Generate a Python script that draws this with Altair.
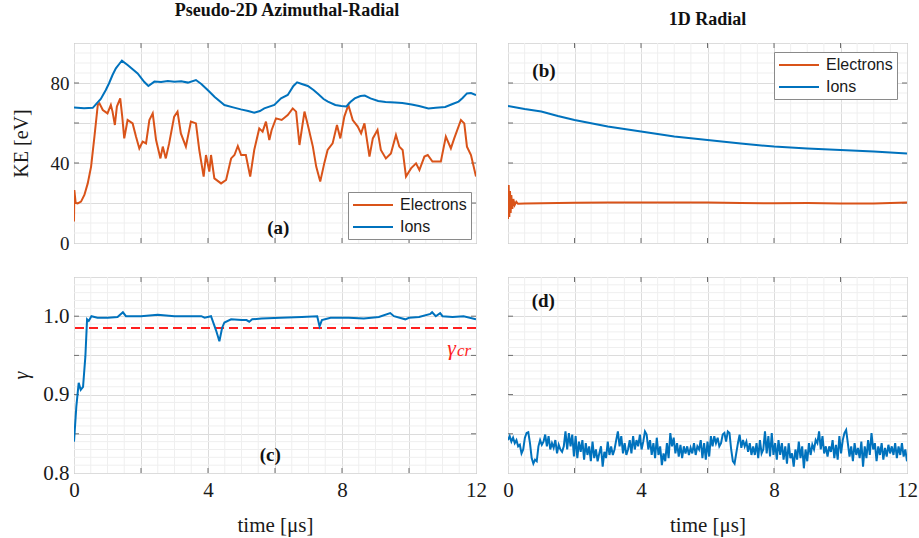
import altair as alt
import numpy as np
import pandas as pd

ORANGE = "#D95319"
BLUE = "#0072BD"
RED = "#FF1F1F"
MAJOR_GRID = "#dcdcdc"
MINOR_GRID = "#efefef"
FRAME = "#9a9a9a"
SERIF = "Liberation Serif"
SANS = "Liberation Sans"

# ---------------- data ----------------
# (time [us], kinetic energy [eV]) -- pseudo-2D azimuthal-radial run
KE2D_ELECTRONS = [
    (0, 10.7), (0.01, 26.5), (0.05, 20), (0.11, 19.8), (0.21, 20.7), (0.31, 24), (0.41, 29.8),
    (0.51, 38.2), (0.61, 53.2), (0.71, 69), (0.76, 69.8), (0.86, 66.5), (1.0, 64.8), (1.1, 69),
    (1.15, 65.7), (1.22, 59), (1.28, 68.2), (1.38, 72.3), (1.44, 63.2), (1.5, 52.3), (1.6, 61.5),
    (1.75, 59.8), (1.85, 53.2), (1.95, 47.3), (2.05, 50.7), (2.15, 49.8), (2.25, 61.5), (2.35, 64.8),
    (2.45, 51.5), (2.58, 42.3), (2.65, 48.2), (2.74, 42.3), (2.84, 49.8), (2.99, 63.2), (3.09, 65.7),
    (3.19, 54.8), (3.34, 48.2), (3.49, 60.7), (3.64, 59.8), (3.74, 46.5), (3.87, 33.2), (3.94, 44),
    (4.04, 35.7), (4.09, 44), (4.19, 32.3), (4.39, 29.8), (4.54, 31.5), (4.69, 42.3), (4.79, 44),
    (4.89, 48.5), (4.99, 44), (5.13, 44), (5.26, 33.2), (5.38, 46.5), (5.53, 57.3), (5.63, 55.7),
    (5.73, 60.7), (5.83, 51.5), (5.9, 56.5), (6.03, 62.3), (6.2, 61.5), (6.38, 64), (6.53, 67.3),
    (6.63, 65.7), (6.73, 49), (6.88, 65.7), (6.98, 59), (7.13, 48.2), (7.23, 38.2), (7.35, 30.7),
    (7.47, 39.8), (7.57, 46.5), (7.72, 49.8), (7.85, 59), (7.95, 52.3), (8.07, 63.2), (8.19, 69),
    (8.32, 61.5), (8.47, 58.2), (8.57, 54.8), (8.67, 59.8), (8.82, 43.2), (8.92, 52.3), (9.06, 56.5),
    (9.16, 46.5), (9.31, 42.3), (9.46, 44.8), (9.61, 54), (9.71, 48.2), (9.81, 46.5), (9.91, 33.2),
    (10.06, 37.3), (10.21, 39.8), (10.31, 36.5), (10.46, 43.2), (10.56, 44), (10.7, 40.7),
    (10.95, 40.7), (11.1, 53.2), (11.25, 47.3), (11.35, 52.3), (11.55, 61.5), (11.65, 59.8),
    (11.73, 48.2), (11.85, 44), (12.0, 33.2),
]
KE2D_IONS = [
    (0, 67.8), (0.3, 67.4), (0.56, 67.6), (0.8, 72), (0.95, 76.5), (1.05, 80), (1.15, 84),
    (1.25, 87.3), (1.35, 89.5), (1.43, 91.2), (1.6, 89), (1.9, 84.8), (2.1, 80.5), (2.22, 78.5),
    (2.4, 80.7), (2.6, 80.5), (2.8, 81), (3.0, 80.6), (3.2, 80.9), (3.4, 80.2), (3.64, 81.5),
    (3.8, 79.5), (3.99, 76.5), (4.2, 73), (4.49, 69), (4.75, 67.8), (4.98, 66.8), (5.2, 66),
    (5.38, 65.2), (5.55, 66), (5.68, 67.3), (5.98, 69), (6.18, 72.3), (6.38, 74), (6.55, 78.5),
    (6.66, 80.3), (6.8, 79.5), (6.98, 78.5), (7.15, 76.5), (7.28, 74.6), (7.45, 72), (7.58, 70.7),
    (7.8, 69), (7.98, 68.5), (8.13, 68.3), (8.25, 70.5), (8.38, 72.3), (8.55, 73.5), (8.68, 73.7),
    (8.85, 72.3), (9.08, 71), (9.3, 70.5), (9.58, 70.3), (9.8, 70), (10.08, 69.3), (10.3, 68.5),
    (10.58, 67.3), (10.8, 67.6), (11.08, 68), (11.3, 69.5), (11.48, 70.7), (11.6, 72.5),
    (11.73, 74.8), (11.85, 75), (12.0, 74),
]

# 1D radial run
KE1D_ELECTRONS = [
    (0, 12), (0.02, 29), (0.04, 13), (0.06, 26), (0.08, 15), (0.1, 24), (0.13, 17), (0.16, 22),
    (0.2, 19), (0.25, 20.6), (0.3, 19.6), (0.5, 19.8), (1, 19.9), (2, 20.1), (3, 20.2), (4, 20.3),
    (5, 20.2), (6, 20.2), (7, 20.0), (8, 19.9), (9, 20.0), (10, 19.8), (11, 19.8), (12, 20.3),
]
KE1D_IONS = [
    (0, 68.5), (0.5, 67), (1, 65.7), (1.5, 63.5), (2, 61.5), (3, 58.2), (4, 55.7), (5, 53.2),
    (6, 51.5), (7, 49.8), (8, 48.2), (9, 47.3), (10, 46.5), (11, 45.7), (12, 44.8),
]

# (time [us], gamma) -- pseudo-2D run
GAMMA2D = [
    (0, 0.840), (0.07, 0.885), (0.14, 0.915), (0.2, 0.906), (0.27, 0.910), (0.34, 0.949),
    (0.39, 0.996), (0.44, 0.994), (0.52, 1.0), (0.7, 0.998), (1.01, 0.998), (1.3, 0.999),
    (1.46, 1.005), (1.55, 1.0), (2.0, 1.0), (2.5, 1.002), (3.0, 1.0), (3.5, 1.0), (3.8, 1.0),
    (3.9, 0.998), (4.09, 1.0), (4.24, 0.982), (4.34, 0.968), (4.42, 0.985), (4.49, 0.992),
    (4.69, 0.996), (5.0, 0.995), (5.15, 0.995), (5.23, 0.993), (5.32, 0.996), (5.6, 0.997),
    (6.17, 0.998), (6.8, 0.999), (7.26, 1.0), (7.33, 0.987), (7.4, 0.995), (7.66, 0.998),
    (8.2, 0.998), (8.65, 0.997), (9.1, 0.999), (9.44, 1.004), (9.55, 1.0), (9.89, 0.996),
    (10.0, 0.998), (10.3, 0.999), (10.64, 1.003), (10.69, 1.005), (10.8, 1.0), (10.93, 1.004),
    (11.0, 1.0), (11.3, 0.999), (11.63, 1.0), (12.0, 0.996),
]
GAMMA_CR = 0.985

# gamma of the 1D run, uniformly sampled over 0-12 us
GAMMA1D = [
    .842, .847, .840, .845, .838, .842, .834, .836, .825, .830,
    .845, .851, .852, .838, .819, .812, .817, .815, .834, .842,
    .836, .840, .849, .834, .847, .830, .838, .832, .842, .825,
    .836, .830, .827, .834, .853, .830, .851, .834, .849, .821,
    .847, .819, .840, .827, .842, .817, .838, .823, .834, .815,
    .840, .819, .830, .815, .825, .834, .808, .827, .819, .840,
    .823, .834, .823, .830, .842, .853, .834, .847, .825, .838,
    .823, .830, .842, .825, .847, .830, .842, .834, .849, .830,
    .840, .853, .849, .830, .842, .823, .838, .819, .845, .823,
    .834, .810, .825, .815, .838, .819, .851, .834, .845, .825,
    .838, .821, .836, .819, .834, .825, .834, .823, .832, .825,
    .838, .823, .834, .830, .842, .819, .838, .817, .840, .821,
    .847, .834,
    .847, .838, .845, .834, .838, .849, .851, .840, .853, .851,
    .830, .815, .812, .825, .838, .849, .832, .842, .834, .840,
    .827, .838, .823, .834, .823, .838, .819, .842, .825, .830,
    .853, .825, .847, .821, .851, .823, .838, .817, .842, .823,
    .838, .817, .834, .812, .838, .819, .825, .808, .830, .817,
    .840, .819, .834, .806, .830, .815, .838, .823, .836, .830,
    .842, .838, .853, .830, .847, .825, .834, .821, .834, .827,
    .842, .819, .836, .817, .847, .825, .842, .851, .855, .838,
    .821, .834, .815, .838, .823, .832, .819, .840, .808, .834,
    .819, .842, .823, .851, .830, .838, .815, .834, .823, .838,
    .817, .832, .821, .836, .825, .834, .823, .838, .819, .834,
    .823, .838, .821, .830, .815,
]

TIME_TICKS = [0, 2, 4, 6, 8, 10, 12]
KE_TICKS = [0, 20, 40, 60, 80, 100]
GAMMA_TICKS = [0.8, 0.85, 0.9, 0.95, 1.0, 1.05]
SERIES = ["Electrons", "Ions"]
PANEL_TAGS = ["(a)", "(b)", "(c)", "(d)"]

# ---------------- helpers ----------------
W_L, W_R = 402, 399
TOP_H, BOT_H = 200, 196


def ke_frame(electrons, ions):
    rows = [(t, v, "Electrons") for t, v in electrons] + [(t, v, "Ions") for t, v in ions]
    return pd.DataFrame(rows, columns=["t", "y", "series"])


def minor_lines(lo, hi, step, major_step):
    vals = np.round(np.arange(lo, hi + step / 2, step), 4)
    keep = [v for v in vals if abs(v / major_step - round(v / major_step)) > 1e-6]
    return pd.DataFrame({"v": keep})


def make_axes(show_x, show_y, yticks, ylabel_expr, yfmt, ytitle, fs, ytitle_style="normal"):
    if show_x:
        xaxis = alt.Axis(values=TIME_TICKS, format="d",
                         labelExpr="datum.value % 4 == 0 ? datum.label : ''",
                         labelFont=SERIF, labelFontSize=fs, labelColor="#1a1a1a",
                         labelPadding=6, labelFlush=False, labelOverlap=False,
                         ticks=False, domain=False, grid=True, gridColor=MAJOR_GRID,
                         title="time [μs]", titleFont=SERIF, titleFontSize=fs,
                         titleFontWeight="normal", titleColor="#1a1a1a", titlePadding=13,
                         minExtent=28, maxExtent=28)
    else:
        xaxis = alt.Axis(values=TIME_TICKS, labels=False, ticks=False, domain=False,
                         grid=True, gridColor=MAJOR_GRID, title=None,
                         minExtent=0, maxExtent=0)
    if show_y:
        yaxis = alt.Axis(values=yticks, format=yfmt, labelExpr=ylabel_expr,
                         labelFont=SERIF, labelFontSize=fs, labelColor="#1a1a1a",
                         labelPadding=5, labelOverlap=False,
                         ticks=False, domain=False, grid=True, gridColor=MAJOR_GRID,
                         title=ytitle, titleFont=SERIF, titleFontSize=20,
                         titleFontWeight="normal", titleFontStyle=ytitle_style,
                         titleColor="#1a1a1a", titlePadding=8,
                         minExtent=35, maxExtent=35)
    else:
        yaxis = alt.Axis(values=yticks, labels=False, ticks=False, domain=False,
                         grid=True, gridColor=MAJOR_GRID, title=None,
                         minExtent=0, maxExtent=0)
    return xaxis, yaxis


def decorations(w, h, xs, ys, xaxis, yaxis, yticks, yminor):
    """Minor grid and inward tick marks on all four sides."""
    X = lambda f: alt.X(f, scale=xs, axis=xaxis)
    Y = lambda f: alt.Y(f, scale=ys, axis=yaxis)
    vminor = alt.Chart(minor_lines(0, 12, 0.5, 2)).mark_rule(
        color=MINOR_GRID, strokeWidth=1).encode(x=X("v:Q"))
    hminor = alt.Chart(yminor).mark_rule(
        color=MINOR_GRID, strokeWidth=1).encode(y=Y("v:Q"))
    xt = pd.DataFrame({"v": TIME_TICKS[1:-1]})
    yt = pd.DataFrame({"v": yticks[1:-1]})
    tick_style = dict(color="#6e6e6e", strokeWidth=1)
    tb = alt.Chart(xt).mark_rule(**tick_style).encode(x=X("v:Q"), y=alt.value(h), y2=alt.value(h - 5))
    tt = alt.Chart(xt).mark_rule(**tick_style).encode(x=X("v:Q"), y=alt.value(0), y2=alt.value(5))
    tl = alt.Chart(yt).mark_rule(**tick_style).encode(y=Y("v:Q"), x=alt.value(0), x2=alt.value(5))
    tr = alt.Chart(yt).mark_rule(**tick_style).encode(y=Y("v:Q"), x=alt.value(w), x2=alt.value(w - 5))
    return [vminor, hminor, tb, tt, tl, tr]


def tag(label, tx, ty, xs, ys, xaxis, yaxis):
    df = pd.DataFrame({"t": [tx], "y": [ty], "label": [label]})
    return alt.Chart(df).mark_text(font=SERIF, fontSize=19, fontWeight="bold",
                                   color="#111111").encode(
        x=alt.X("t:Q", scale=xs, axis=xaxis), y=alt.Y("y:Q", scale=ys, axis=yaxis),
        text="label:N")


def ke_panel(electrons, ions, w, show_y, legend_xy, tag_label, tag_xy, title):
    xs = alt.Scale(domain=[0, 12], nice=False, zero=False)
    ys = alt.Scale(domain=[0, 100], nice=False, zero=False)
    xaxis, yaxis = make_axes(False, show_y, KE_TICKS,
                             "datum.value % 40 == 0 ? datum.label : ''", "d", "KE [eV]", 19)
    # a 40 px line sample inside a 16 px legend row
    legend = alt.Legend(orient="none", legendX=legend_xy[0], legendY=legend_xy[1], title=None,
                        symbolType="M-2.5,0H2.5", symbolSize=256, symbolStrokeWidth=2,
                        symbolOffset=12, labelOffset=18,
                        labelFont=SANS, labelFontSize=16, labelColor="#1a1a1a",
                        padding=4, rowPadding=5,
                        fillColor="white", strokeColor="#8a8a8a")
    lines = alt.Chart(ke_frame(electrons, ions)).mark_line(strokeWidth=2, clip=True).encode(
        x=alt.X("t:Q", scale=xs, axis=xaxis),
        y=alt.Y("y:Q", scale=ys, axis=yaxis),
        color=alt.Color("series:N", scale=alt.Scale(domain=SERIES, range=[ORANGE, BLUE]),
                        legend=legend),
    )
    layers = decorations(w, TOP_H, xs, ys, xaxis, yaxis, KE_TICKS, minor_lines(0, 100, 5, 20))
    layers += [lines, tag(tag_label, tag_xy[0], tag_xy[1], xs, ys, xaxis, yaxis)]
    return alt.layer(*layers).properties(
        width=w, height=TOP_H,
        title=alt.Title(title[0], font=SERIF, fontSize=18, fontWeight="bold", color="#111111",
                        anchor="middle", offset=14, dx=title[1]),
    )


def gamma_panel(series_df, w, show_y, tag_label, tag_xy, extra=None):
    xs = alt.Scale(domain=[0, 12], nice=False, zero=False)
    ys = alt.Scale(domain=[0.8, 1.05], nice=False, zero=False)
    xaxis, yaxis = make_axes(True, show_y, GAMMA_TICKS,
                             "round(datum.value * 100) % 10 == 0 ? datum.label : ''",
                             ".1f", "γ", 21, ytitle_style="italic")
    line = alt.Chart(series_df).mark_line(strokeWidth=2, color=BLUE, clip=True).encode(
        x=alt.X("t:Q", scale=xs, axis=xaxis), y=alt.Y("y:Q", scale=ys, axis=yaxis))
    layers = decorations(w, BOT_H, xs, ys, xaxis, yaxis, GAMMA_TICKS,
                         minor_lines(0.8, 1.05, 0.01, 0.05))
    if extra is not None:
        layers += extra(xs, ys, xaxis, yaxis)
    layers += [line, tag(tag_label, tag_xy[0], tag_xy[1], xs, ys, xaxis, yaxis)]
    return alt.layer(*layers).properties(width=w, height=BOT_H)


def critical_gamma(xs, ys, xaxis, yaxis):
    cr = pd.DataFrame({"y": [GAMMA_CR]})
    rule = alt.Chart(cr).mark_rule(color=RED, strokeWidth=2, strokeDash=[9, 5]).encode(
        y=alt.Y("y:Q", scale=ys, axis=yaxis))
    # gamma_cr label: the symbol and its subscript as two texts
    lab = pd.DataFrame({"t": [11.14, 11.43], "y": [0.959, 0.9555], "label": ["γ", "cr"]})
    big = alt.Chart(lab.iloc[[0]]).mark_text(
        font=SERIF, fontSize=22, fontStyle="italic", color=RED, align="left").encode(
        x=alt.X("t:Q", scale=xs, axis=xaxis), y=alt.Y("y:Q", scale=ys, axis=yaxis), text="label:N")
    small = alt.Chart(lab.iloc[[1]]).mark_text(
        font=SERIF, fontSize=17, fontStyle="italic", color=RED, align="left").encode(
        x=alt.X("t:Q", scale=xs, axis=xaxis), y=alt.Y("y:Q", scale=ys, axis=yaxis), text="label:N")
    return [rule, big, small]


gamma2d = pd.DataFrame(GAMMA2D, columns=["t", "y"])
gamma1d = pd.DataFrame({"t": np.linspace(0, 12, len(GAMMA1D)), "y": GAMMA1D})

a = ke_panel(KE2D_ELECTRONS, KE2D_IONS, W_L, True, (274, 149), PANEL_TAGS[0], (6.1, 7.5),
             ("Pseudo-2D Azimuthal-Radial", 12))
b = ke_panel(KE1D_ELECTRONS, KE1D_IONS, W_R, False, (266, 9), PANEL_TAGS[1], (1.08, 86),
             ("1D Radial", 0))
c = gamma_panel(gamma2d, W_L, True, PANEL_TAGS[2], (5.86, 0.823), extra=critical_gamma)
d = gamma_panel(gamma1d, W_R, False, PANEL_TAGS[3], (1.06, 1.019))

chart = (
    alt.concat(a, b, c, d, columns=2, spacing={"row": 34, "column": 32}, bounds="flush")
    .resolve_scale(color="independent")
    .resolve_legend(color="independent")
    .properties(padding={"left": 10, "top": 1, "right": 0, "bottom": 2}, background="white")
    .configure_view(stroke=FRAME, strokeWidth=1)
)

chart.save("out.html", embed_options={"renderer": "svg", "actions": False})
